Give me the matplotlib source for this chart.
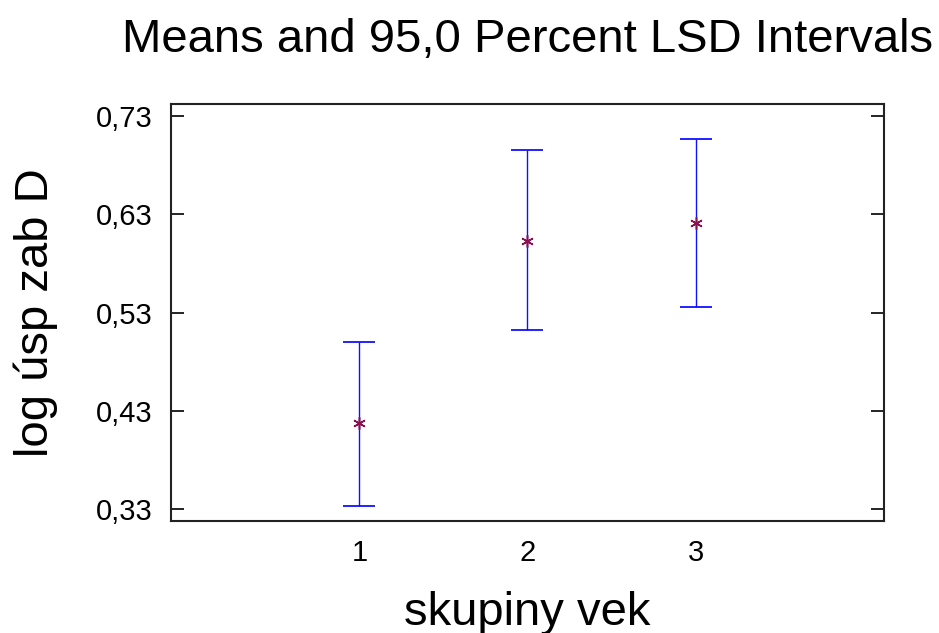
import matplotlib
matplotlib.use("Agg")
import matplotlib.pyplot as plt
from matplotlib.ticker import FixedLocator, FuncFormatter

# group means and LSD interval limits
groups = [1, 2, 3]
means = [0.4175, 0.6032, 0.6215]
lower = [0.3335, 0.5122, 0.5353]
upper = [0.5000, 0.6954, 0.7063]
yticks = [0.33, 0.43, 0.53, 0.63, 0.73]

plt.rcParams["font.family"] = ["Liberation Sans", "DejaVu Sans"]

fig = plt.figure(figsize=(9.39, 6.33), dpi=100)
ax = fig.add_axes([0.1821, 0.1769, 0.7593, 0.6588])

err = [[m - lo for m, lo in zip(means, lower)],
       [hi - m for m, hi in zip(means, upper)]]
ax.errorbar(groups, means, yerr=err, fmt="none", ecolor="#1010ff",
            elinewidth=1.0, capsize=11.5, capthick=1.3)
ax.plot(groups, means, linestyle="none", marker=(6, 2, 0), markersize=9,
        markeredgewidth=1.1, color="#8b1050")

ax.set_xlim(-0.12, 4.12)
ax.set_ylim(0.3178, 0.7423)
ax.set_xticks(groups)
ax.yaxis.set_major_locator(FixedLocator(yticks))
ax.yaxis.set_major_formatter(FuncFormatter(lambda v, p: f"{v:.2f}".replace(".", ",")))

ax.tick_params(axis="y", direction="in", length=9.5, width=1.2, labelsize=21,
               pad=13.5, right=True, left=True)
ax.tick_params(axis="x", length=0, labelsize=21, pad=13)
for s in ax.spines.values():
    s.set_linewidth(1.5)
    s.set_color("#222222")

ax.set_xlabel("skupiny vek", fontsize=34, labelpad=17)
ax.set_ylabel("log úsp zab D", fontsize=34, labelpad=27)
fig.text(0.5618, 0.918, "Means and 95,0 Percent LSD Intervals",
         fontsize=34, ha="center", va="baseline")

fig.savefig("out.png", dpi=100)
